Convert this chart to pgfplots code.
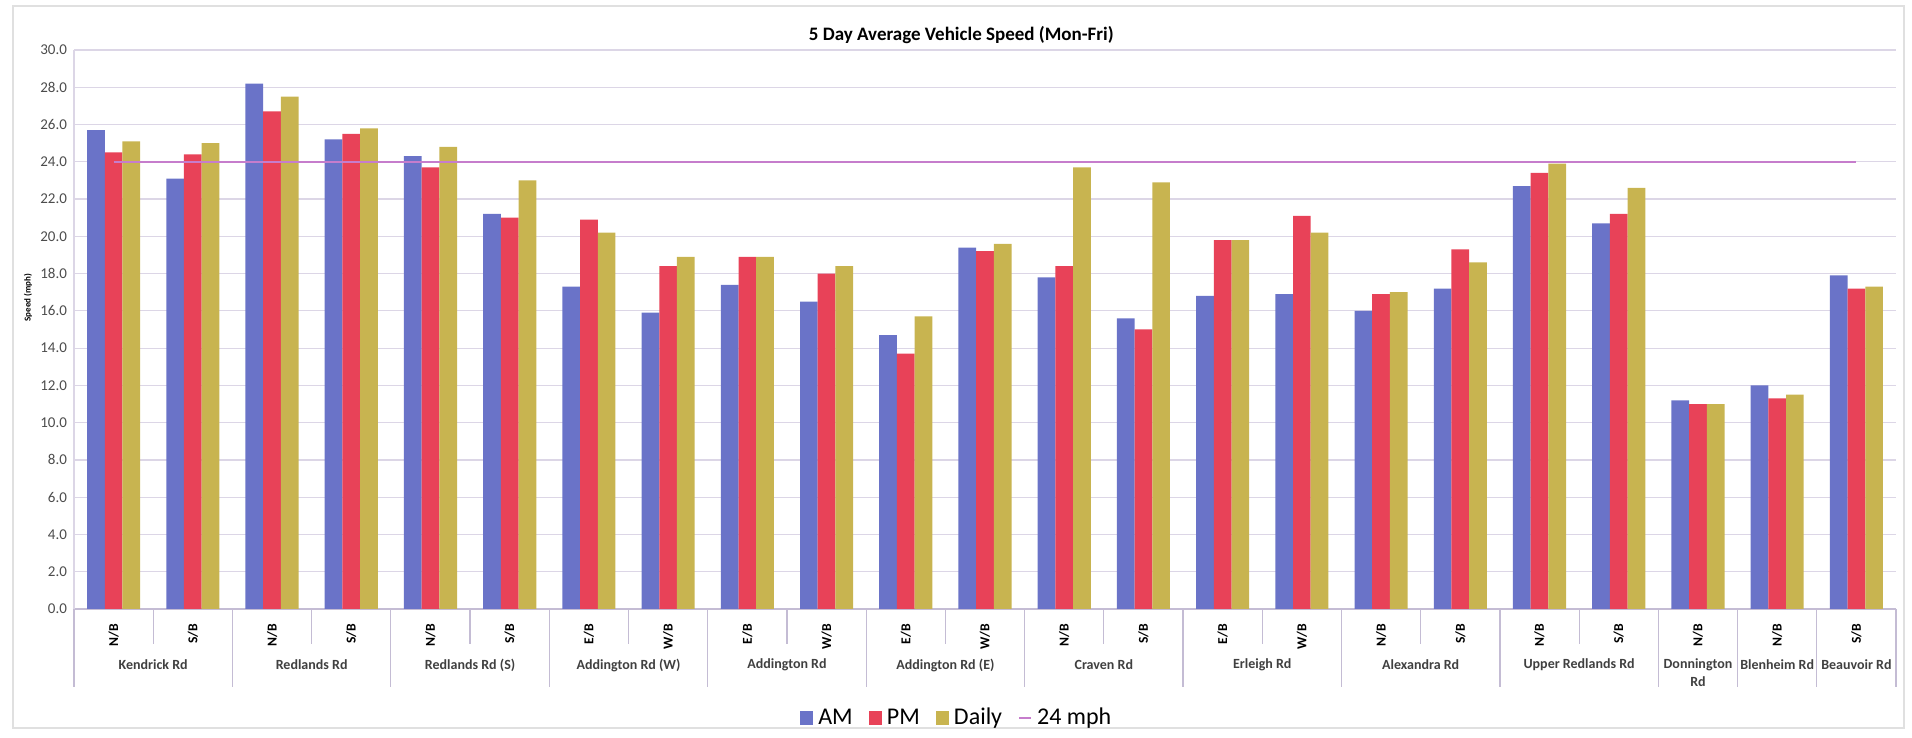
\documentclass[border=0pt]{standalone}
\usepackage{fontspec}
\setmainfont{Carlito}
\usepackage{pgfplots}
\pgfplotsset{compat=1.18}
\usepackage{pgfplotstable}

\definecolor{amblue}{HTML}{6A73C8}
\definecolor{pmred}{HTML}{E84258}
\definecolor{dailygold}{HTML}{C8B450}
\definecolor{limitpurple}{HTML}{C67DCC}
\definecolor{gridcol}{HTML}{DCD6E6}
\definecolor{sepcol}{HTML}{C4BCD4}
\definecolor{labelgray}{HTML}{404040}

% 5 day average speeds (mph), one row per road / direction
\pgfplotstableread{
x  AM   PM   Daily Limit
0  25.7 24.5 25.1  24
1  23.1 24.4 25.0  24
2  28.2 26.7 27.5  24
3  25.2 25.5 25.8  24
4  24.3 23.7 24.8  24
5  21.2 21.0 23.0  24
6  17.3 20.9 20.2  24
7  15.9 18.4 18.9  24
8  17.4 18.9 18.9  24
9  16.5 18.0 18.4  24
10 14.7 13.7 15.7  24
11 19.4 19.2 19.6  24
12 17.8 18.4 23.7  24
13 15.6 15.0 22.9  24
14 16.8 19.8 19.8  24
15 16.9 21.1 20.2  24
16 16.0 16.9 17.0  24
17 17.2 19.3 18.6  24
18 22.7 23.4 23.9  24
19 20.7 21.2 22.6  24
20 11.2 11.0 11.0  24
21 12.0 11.3 11.5  24
22 17.9 17.2 17.3  24
}\speeds

\begin{document}
\begin{tikzpicture}
\path[use as bounding box] (0,0) rectangle (956pt,369pt);
\draw[black!12, line width=0.6pt] (6.5pt,5pt) rectangle (952pt,366pt);
\begin{axis}[
  at={(37pt,64.5pt)}, anchor=south west,
  scale only axis, width=911pt, height=279.5pt,
  clip=false,
  xmin=-0.5, xmax=22.5, ymin=0, ymax=30,
  axis lines*=left,
  x axis line style={draw=sepcol, line width=0.8pt},
  y axis line style={draw=gridcol, line width=0.6pt},
  tick style={draw=none},
  ytick={0,2,...,30},
  ymajorgrids, grid style={gridcol, line width=0.6pt},
  yticklabel style={font=\fontsize{7.5}{9}\selectfont, text=black!70,
    /pgf/number format/.cd, fixed, fixed zerofill, precision=1, assume math mode=true},
  ylabel={Speed (mph)},
  ylabel style={at={(axis description cs:-0.0253,0.557)}, anchor=center,
    font=\bfseries\fontsize{4.5}{5}\selectfont},
  xtick={0,...,22},
  xticklabels={N/B,S/B,N/B,S/B,N/B,S/B,E/B,W/B,E/B,W/B,E/B,W/B,N/B,S/B,E/B,W/B,N/B,S/B,N/B,S/B,N/B,N/B,S/B},
  xticklabel style={rotate=90, anchor=east, font=\bfseries\fontsize{6.8}{8}\selectfont},
  xticklabel shift=4pt,
  bar width=8.85pt,
  title={5 Day Average Vehicle Speed (Mon-Fri)},
  title style={at={(0.487,1)}, anchor=center, yshift=1.5pt,
    font=\bfseries\fontsize{9.5}{11}\selectfont},
  legend style={at={(0.485,-0.195)}, anchor=center, legend columns=4,
    draw=none, fill=none, font=\fontsize{12}{14}\selectfont,
    /tikz/every odd column/.append style={column sep=0.5pt},
    /tikz/every even column/.append style={column sep=6pt}},
]
\addplot[ybar, bar shift=-8.85pt, fill=amblue, draw=none,
  legend image code/.code={\fill[amblue] (0pt,-3.3pt) rectangle (6.6pt,3.3pt);}]
  table[x=x, y=AM] {\speeds};
\addplot[ybar, bar shift=0pt, fill=pmred, draw=none,
  legend image code/.code={\fill[pmred] (0pt,-3.3pt) rectangle (6.6pt,3.3pt);}]
  table[x=x, y=PM] {\speeds};
\addplot[ybar, bar shift=8.85pt, fill=dailygold, draw=none,
  legend image code/.code={\fill[dailygold] (0pt,-3.3pt) rectangle (6.6pt,3.3pt);}]
  table[x=x, y=Daily] {\speeds};
\addplot[sharp plot, limitpurple, line width=1pt, no markers,
  legend image code/.code={\draw[limitpurple, line width=1pt] (0pt,0pt) -- (6pt,0pt);}]
  table[x=x, y=Limit] {\speeds};
\legend{AM, PM, Daily, 24 mph}

% separators between directions and between roads
\pgfplotsinvokeforeach{0.5,2.5,4.5,6.5,8.5,10.5,12.5,14.5,16.5,18.5}{
  \draw[sepcol, line width=0.6pt] (axis cs:#1,0) -- ++(0pt,-17.5pt);
}
\pgfplotsinvokeforeach{-0.5,1.5,3.5,5.5,7.5,9.5,11.5,13.5,15.5,17.5,19.5,20.5,21.5,22.5}{
  \draw[sepcol, line width=0.6pt] (axis cs:#1,0) -- ++(0pt,-39pt);
}

\tikzset{road/.style={font=\bfseries\fontsize{7}{9}\selectfont, text=labelgray, align=center, inner sep=0pt}}
\node[road] at (axis cs:0.5,0)  [yshift=-28pt] {Kendrick Rd};
\node[road] at (axis cs:2.5,0)  [yshift=-28pt] {Redlands Rd};
\node[road] at (axis cs:4.5,0)  [yshift=-28pt] {Redlands Rd (S)};
\node[road] at (axis cs:6.5,0)  [yshift=-28pt] {Addington Rd (W)};
\node[road] at (axis cs:8.5,0)  [yshift=-28pt] {Addington Rd};
\node[road] at (axis cs:10.5,0) [yshift=-28pt] {Addington Rd (E)};
\node[road] at (axis cs:12.5,0) [yshift=-28pt] {Craven Rd};
\node[road] at (axis cs:14.5,0) [yshift=-28pt] {Erleigh Rd};
\node[road] at (axis cs:16.5,0) [yshift=-28pt] {Alexandra Rd};
\node[road] at (axis cs:18.5,0) [yshift=-28pt] {Upper Redlands Rd};
\node[road] at (axis cs:20,0)   [yshift=-32pt] {Donnington\\Rd};
\node[road] at (axis cs:21,0)   [yshift=-28pt] {Blenheim Rd};
\node[road] at (axis cs:22,0)   [yshift=-28pt] {Beauvoir Rd};
\end{axis}
\end{tikzpicture}
\end{document}
